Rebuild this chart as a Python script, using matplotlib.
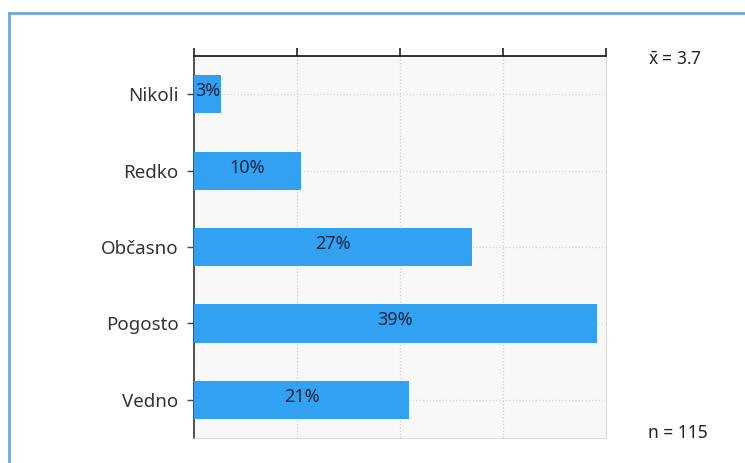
import matplotlib
matplotlib.use("Agg")
from matplotlib import pyplot as plt
from matplotlib.lines import Line2D

categories = ["Nikoli", "Redko", "Občasno", "Pogosto", "Vedno"]
percentages = [2.6, 10.4, 27.0, 39.1, 20.9]
bar_labels = ["3%", "10%", "27%", "39%", "21%"]
x_ticks = [0, 10, 20, 30, 40]
mean_label = r"$\bar{\mathrm{x}}$ = 3.7"
n_label = "n = 115"

plt.rcParams['font.family'] = ['Noto Sans', 'DejaVu Sans']
plt.rcParams['mathtext.fontset'] = 'custom'
plt.rcParams['mathtext.rm'] = 'Noto Sans'

fig = plt.figure(figsize=(7.45, 4.63), dpi=100)
fig.patch.set_facecolor("white")

# frame around the chart (only top and left edges are visible)
border_color = "#6fa8dc"
fig.add_artist(Line2D([9 / 745, 9 / 745], [0, 1 - 13 / 463], transform=fig.transFigure,
                      color=border_color, lw=2))
fig.add_artist(Line2D([9 / 745, 1], [1 - 13 / 463, 1 - 13 / 463], transform=fig.transFigure,
                      color=border_color, lw=2))

ax = fig.add_axes([194 / 745, 25 / 463, 412 / 745, 382 / 463])
ax.set_facecolor("#f8f8f8")

y = list(range(len(categories)))
ax.barh(y, percentages, height=0.5, color="#33a1f2", zorder=3)
for yi, val, lab in zip(y, percentages, bar_labels):
    ax.text(val / 2, yi - 0.04, lab, ha="center", va="center",
            fontsize=13, color="#172640", zorder=4)

ax.set_xlim(0, 40)
ax.set_ylim(len(categories) - 0.5, -0.5)
ax.set_yticks(y)
ax.set_yticklabels(categories, fontsize=13.5, color="#333333")
ax.set_xticks(x_ticks)
ax.xaxis.tick_top()
ax.tick_params(axis="x", direction="out", length=6, width=1.2, labeltop=False, color="#222222")
ax.tick_params(axis="y", direction="out", length=5, width=1, color="#444444", pad=6)

ax.grid(True, axis="x", linestyle=":", color="#d0d0d0", lw=0.9, zorder=0)
ax.grid(True, axis="y", linestyle=":", color="#d8d8d8", lw=0.9, zorder=0)
ax.set_axisbelow(True)

ax.spines["top"].set_color("#222222")
ax.spines["top"].set_linewidth(1.3)
ax.spines["left"].set_color("#444444")
ax.spines["left"].set_linewidth(1.3)
ax.spines["right"].set_color("#dddddd")
ax.spines["bottom"].set_color("#dddddd")

fig.text(648 / 745, 1 - 60 / 463, mean_label, fontsize=12.5, color="#222222",
         ha="left", va="center")
fig.text(648 / 745, 1 - 433 / 463, n_label, fontsize=12.5, color="#222222",
         ha="left", va="center")

fig.savefig("out.png", dpi=100)
plt.close(fig)
